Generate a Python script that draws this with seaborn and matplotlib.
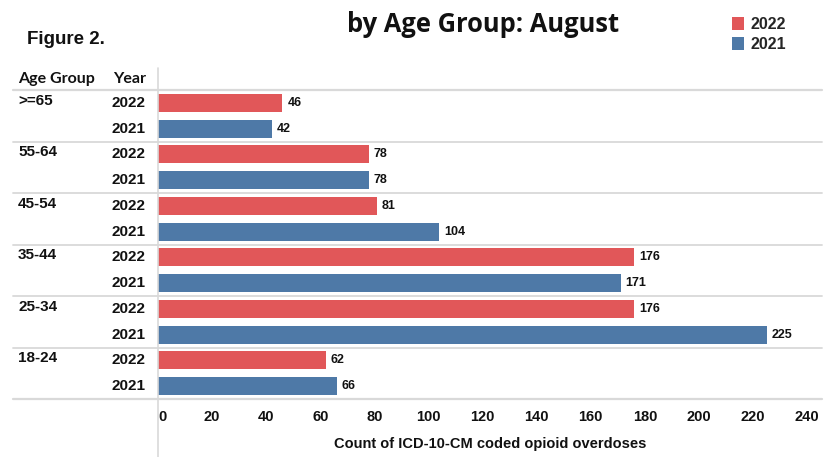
import matplotlib
matplotlib.use("Agg")
import matplotlib.pyplot as plt
import seaborn as sns
import pandas as pd
from matplotlib.patches import Patch
from matplotlib.lines import Line2D
from matplotlib import font_manager

sns.set_theme(style="white")
plt.rcParams['font.family'] = ['Liberation Sans', 'DejaVu Sans']

age_groups = [">=65", "55-64", "45-54", "35-44", "25-34", "18-24"]
years = ["2022", "2021"]
values_2022 = [46, 78, 81, 176, 176, 62]
values_2021 = [42, 78, 104, 171, 225, 66]
x_ticks = [0, 20, 40, 60, 80, 100, 120, 140, 160, 180, 200, 220, 240]
colors = {"2022": "#E15759", "2021": "#4E79A7"}

rows = []
for g, v22, v21 in zip(age_groups, values_2022, values_2021):
    rows.append({"row": f"{g}|2022", "group": g, "Year": "2022", "count": v22})
    rows.append({"row": f"{g}|2021", "group": g, "Year": "2021", "count": v21})
df = pd.DataFrame(rows)

names = {f.name for f in font_manager.fontManager.ttflist}
narrow = "Liberation Sans Narrow" if "Liberation Sans Narrow" in names else "Liberation Sans"

W, H = 830, 457
fig = plt.figure(figsize=(W / 100, H / 100), dpi=100)
ax = fig.add_axes([158 / W, 1 - 399 / H, (822 - 158) / W, (399 - 90) / H])

sns.barplot(data=df, y="row", x="count", hue="Year", palette=colors,
            dodge=False, orient="h", width=0.7, ax=ax, legend=False,
            saturation=1, linewidth=0)

n = len(df)
ax.set_ylim(n - 0.5, -0.5)
ax.set_xlim(0, 245.5)
ax.set_xticks(x_ticks)
ax.set_xticklabels([str(t) for t in x_ticks], fontsize=10.5, fontweight="bold",
                   color="#111111")
ax.get_xticklabels()[0].set_horizontalalignment("left")
ax.tick_params(axis="x", length=4, width=1, color="#ececec", pad=4, direction="out")
ax.set_yticks([])
ax.set_ylabel("")
ax.set_xlabel("Count of ICD-10-CM coded opioid overdoses", fontsize=10.5,
              fontweight="bold", labelpad=9, color="#111111")
for s in ["top", "right", "bottom", "left"]:
    ax.spines[s].set_visible(False)

# value labels
for i, r in df.iterrows():
    ax.text(r["count"] + 1.8, i, str(r["count"]), va="center", ha="left",
            fontsize=9, fontweight="bold", color="#111111")

# separator lines (figure coords)
sep_color = "#d9d9d9"
for k in range(len(age_groups) + 1):
    yp = 90 + k * (399 - 90) / len(age_groups)
    fig.add_artist(Line2D([13 / W, 822 / W], [1 - yp / H, 1 - yp / H],
                          color=sep_color, lw=1.6 if k in (0, len(age_groups)) else 1.3))
fig.add_artist(Line2D([158 / W, 158 / W], [1 - 68 / H, 0], color=sep_color, lw=1.2))

# left table text
fig.text(18 / W, 1 - 79 / H, "Age Group", fontsize=11.5, fontweight="bold",
         va="center", ha="left", color="#111111", family=["Lato", "DejaVu Sans"])
fig.text(146 / W, 1 - 79 / H, "Year", fontsize=11.5, fontweight="bold",
         va="center", ha="right", color="#111111", family=["Lato", "DejaVu Sans"])
row_h = (399 - 90) / n
for i, r in df.iterrows():
    yc = 90 + (i + 0.5) * row_h
    fig.text(146 / W, 1 - yc / H, r["Year"], fontsize=11, fontweight="bold",
             va="center", ha="right", color="#111111")
    if r["Year"] == "2022":
        fig.text(18 / W, 1 - (yc - 2) / H, r["group"], fontsize=11,
                 fontweight="bold", va="center", ha="left", color="#111111")

# titles
fig.text(483 / W, 1 - 25 / H, "by Age Group: August", fontsize=18.4,
         fontweight="bold", ha="center", va="center", color="#111111",
         family=["Open Sans", "DejaVu Sans"])
fig.text(27 / W, 1 - 40 / H, "Figure 2.", fontsize=13.5, fontweight="bold",
         ha="left", va="center", color="#111111",
         family=[narrow, "DejaVu Sans"])

# legend
handles = [Patch(facecolor=colors[y], edgecolor="none", label=y) for y in years]
fig.legend(handles=handles, loc="upper left", bbox_to_anchor=(721 / W, 1 - 6 / H),
           frameon=False, prop={"size": 11.5, "weight": "bold"},
           handlelength=0.75, handleheight=0.9, handletextpad=0.4, labelspacing=0.3,
           borderpad=0.2)

fig.savefig("out.png", dpi=100)
